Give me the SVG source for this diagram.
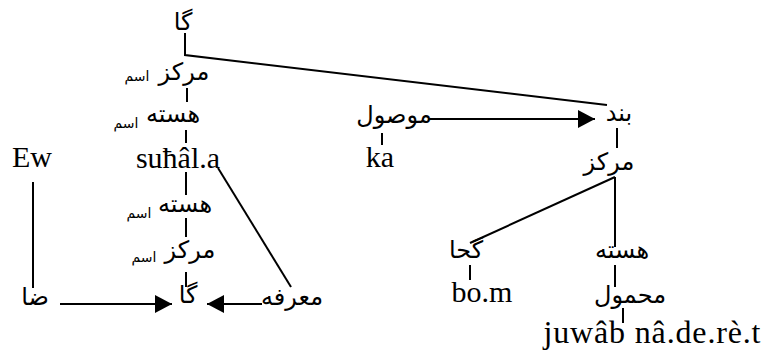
<svg xmlns="http://www.w3.org/2000/svg" width="764" height="351" viewBox="0 0 764 351">
<defs>
<marker id="ah" viewBox="0 0 17 18" refX="17" refY="9" markerWidth="17" markerHeight="18" markerUnits="userSpaceOnUse" orient="auto">
<path d="M0,0 L17,9 L0,18 Z" fill="#000"/>
</marker>
</defs>
<style>
.l{font-family:"Liberation Serif","Times New Roman",serif;font-size:30px;fill:#000;text-anchor:middle}
.p{font-family:"DejaVu Sans",sans-serif;font-size:24px;fill:#000;text-anchor:middle}
.s{font-family:"DejaVu Sans",sans-serif;font-size:14px;fill:#000;text-anchor:middle}
.c{stroke:#000;stroke-width:2;fill:none}
</style>
<rect width="764" height="351" fill="#fff"/>
<g id="connectors" class="c">
<path d="M185,33 V55 L607,105"/>
<path d="M187,88 V102"/>
<path d="M186,130 V143"/>
<path d="M186,172 V195"/>
<path d="M186,218 V237"/>
<path d="M186,272 V287"/>
<path d="M33,182 V288"/>
<path d="M60,304 H172" marker-end="url(#ah)"/>
<path d="M262,304 H207" marker-end="url(#ah)"/>
<path d="M218,168 L291,287"/>
<path d="M428,119 H595" marker-end="url(#ah)"/>
<path d="M382,133 V145"/>
<path d="M617,128 V148"/>
<path d="M615,177 V247"/>
<path d="M615,177 L470,243"/>
<path d="M470,265 V280"/>
<path d="M615,265 V287"/>
<path d="M623,308 V323"/>
</g>
<g id="n-ga-top"><text class="p" x="183" y="30">گا</text></g>
<g id="n-markaz1"><text class="p" x="184" y="80">مرکز</text><text class="s" x="137" y="81">اسم</text></g>
<g id="n-hasteh1"><text class="p" x="173" y="122">هسته</text><text class="s" x="126" y="128">اسم</text></g>
<g id="n-suhal"><text class="l" x="178" y="168">suħâl.a</text></g>
<g id="n-ew"><text class="l" x="32" y="167">Ew</text></g>
<g id="n-hasteh2"><text class="p" x="185" y="212">هسته</text><text class="s" x="139" y="218">اسم</text></g>
<g id="n-markaz2"><text class="p" x="190" y="258">مرکز</text><text class="s" x="144" y="262">اسم</text></g>
<g id="n-za"><text class="p" x="35" y="305">ضا</text></g>
<g id="n-ga-bottom"><text class="p" x="188" y="303">گا</text></g>
<g id="n-marefeh"><text class="p" x="292" y="305">معرفه</text></g>
<g id="n-mowsul"><text class="p" x="394" y="123">موصول</text></g>
<g id="n-ka"><text class="l" x="380" y="167">ka</text></g>
<g id="n-band"><text class="p" x="619" y="121">بند</text></g>
<g id="n-markaz3"><text class="p" x="609" y="170">مرکز</text></g>
<g id="n-gha"><text class="p" x="466" y="258">گحا</text></g>
<g id="n-bom"><text class="l" x="482" y="302">bo.m</text></g>
<g id="n-hasteh3"><text class="p" x="622" y="258">هسته</text></g>
<g id="n-mahmul"><text class="p" x="630" y="303">محمول</text></g>
<g id="n-juwab"><text class="l" x="652" y="343" style="font-size:32px" textLength="217" lengthAdjust="spacing">juwâb nâ.de.rè.t</text></g>
</svg>
